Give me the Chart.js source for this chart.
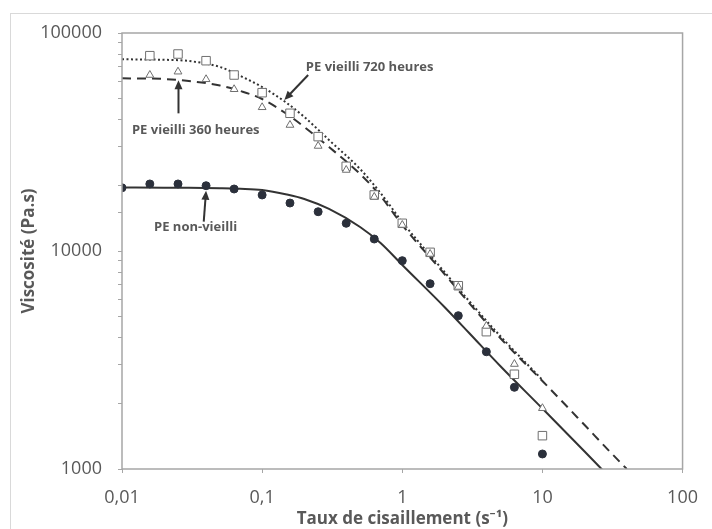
<!DOCTYPE html>
<html>

<head>
    <meta charset="utf-8" />
    <title>Viscosité du PE</title>
    <script src="https://cdn.jsdelivr.net/npm/chart.js"></script>
    <style>
        body { margin: 0; background: #fff; }
    </style>
</head>

<body>
    <canvas id="myChart" width="712" height="529"></canvas>

    <script type="text/javascript">

        // measured shear rates (s-1)
        const shearRate = [0.01, 0.0158, 0.0251, 0.0398, 0.0631, 0.1, 0.158, 0.251, 0.398, 0.631, 1, 1.58, 2.51, 3.98, 6.31, 10];
        const shearRateAged = shearRate.slice(1);

        // measured viscosities (Pa.s)
        const viscNonAged = [19500, 20300, 20300, 19930, 19250, 18070, 16600, 15140, 13400, 11350, 9030, 7080, 5050, 3450, 2370, 1172];
        const visc360h = [64160, 66450, 61330, 55200, 45630, 37840, 30320, 23530, 17700, 13160, 9690, 6840, 4530, 3030, 1900];
        const visc720h = [78700, 80100, 74630, 64160, 53240, 42830, 33470, 24460, 18070, 13400, 9860, 6930, 4265, 2720, 1422];

        // fitted curves
        const fitRate = [0.01, 0.02, 0.03, 0.05, 0.07, 0.1, 0.15, 0.2, 0.3, 0.5, 0.7, 1, 2, 3, 5, 10, 20, 30, 40];
        const fitNonAged = [19560, 19520, 19500, 19420, 19310, 19050, 18160, 17320, 15590, 12890, 10880, 8630, 5536, 4206, 2968, 1894, 1203, 919, 760];
        const fit360h = [61970, 61520, 60230, 57430, 54180, 49800, 42500, 37060, 30000, 22560, 17870, 13160, 7844, 5773, 3989, 2534, 1591, 1209, 1000];
        const fitRate720 = fitRate.slice(0, 16);
        const fit720h = [75750, 75350, 74400, 69830, 63500, 56530, 47740, 41180, 32300, 23770, 18450, 13580, 8012, 5896, 4074, 2561];

        // axis ticks
        const xTicks = [0.01, 0.1, 1, 10, 100];
        const yMajor = [1000, 10000, 100000];

        const pts = (xs, ys) => xs.map((x, i) => ({ x: x, y: ys[i] }));

        const FONT = "'Open Sans', 'Noto Sans', sans-serif";
        const GREY = '#595959';
        const INK = '#333333';

        // labels with arrows pointing at the curves (data coordinates)
        const notes = [
            { text: 'PE vieilli 720 heures', x: 0.205, y: 69800, align: 'left', from: [0.213, 64200], to: [0.144, 49300] },
            { text: 'PE vieilli 360 heures', x: 0.0336, y: 35900, align: 'center', from: [0.0253, 42800], to: [0.0253, 60700] },
            { text: 'PE non-vieilli', x: 0.0335, y: 12850, align: 'center', from: [0.0383, 13630], to: [0.0398, 18900] }
        ];

        // frame around the plot, outer border and the annotations
        const decorPlugin = {
            id: 'decor',
            beforeDraw(chart) {
                const ctx = chart.ctx;
                ctx.save();
                ctx.strokeStyle = '#d9d9d9';
                ctx.lineWidth = 1;
                ctx.strokeRect(10.5, 13.5, 720, 540);
                ctx.restore();
            },
            afterDatasetsDraw(chart) {
                const ctx = chart.ctx;
                const a = chart.chartArea;
                const xs = chart.scales.x, ys = chart.scales.y;
                ctx.save();
                ctx.strokeStyle = '#a6a6a6';
                ctx.lineWidth = 1.5;
                ctx.strokeRect(a.left, a.top, a.right - a.left, a.bottom - a.top);

                notes.forEach(n => {
                    ctx.fillStyle = GREY;
                    ctx.font = 'bold 13px ' + FONT;
                    ctx.textAlign = n.align;
                    ctx.textBaseline = 'middle';
                    ctx.fillText(n.text, xs.getPixelForValue(n.x), ys.getPixelForValue(n.y));

                    const x0 = xs.getPixelForValue(n.from[0]), y0 = ys.getPixelForValue(n.from[1]);
                    const x1 = xs.getPixelForValue(n.to[0]), y1 = ys.getPixelForValue(n.to[1]);
                    const ang = Math.atan2(y1 - y0, x1 - x0);
                    const head = 9;
                    ctx.strokeStyle = INK;
                    ctx.fillStyle = INK;
                    ctx.lineWidth = 2;
                    ctx.beginPath();
                    ctx.moveTo(x0, y0);
                    ctx.lineTo(x1 - Math.cos(ang) * head * 0.8, y1 - Math.sin(ang) * head * 0.8);
                    ctx.stroke();
                    ctx.beginPath();
                    ctx.moveTo(x1, y1);
                    ctx.lineTo(x1 - Math.cos(ang) * head + Math.sin(ang) * 4, y1 - Math.sin(ang) * head - Math.cos(ang) * 4);
                    ctx.lineTo(x1 - Math.cos(ang) * head - Math.sin(ang) * 4, y1 - Math.sin(ang) * head + Math.cos(ang) * 4);
                    ctx.closePath();
                    ctx.fill();
                });
                ctx.restore();
            }
        };

        const markerStyle = (style, radius, fill, stroke) => ({
            showLine: false,
            pointStyle: style,
            pointRadius: radius,
            backgroundColor: fill,
            borderColor: stroke,
            pointBorderWidth: 1
        });

        const fitStyle = dash => ({
            showLine: true,
            pointRadius: 0,
            borderColor: INK,
            borderWidth: 2,
            borderDash: dash,
            cubicInterpolationMode: 'monotone',
            clip: 0,
            fill: false
        });

        const data = {
            datasets: [
                Object.assign({ label: 'PE non-vieilli', data: pts(shearRate, viscNonAged) }, markerStyle('circle', 4, '#2b303b', '#2b303b')),
                Object.assign({ label: 'PE vieilli 360 heures', data: pts(shearRateAged, visc360h) }, markerStyle('triangle', 4.5, '#ffffff', '#6f6f6f')),
                Object.assign({ label: 'PE vieilli 720 heures', data: pts(shearRateAged, visc720h) }, markerStyle('rect', 6, '#ffffff', '#6f6f6f')),
                Object.assign({ label: 'fit non-vieilli', data: pts(fitRate, fitNonAged) }, fitStyle([])),
                Object.assign({ label: 'fit 360 h', data: pts(fitRate, fit360h) }, fitStyle([9, 6])),
                Object.assign({ label: 'fit 720 h', data: pts(fitRate720, fit720h) }, fitStyle([2, 2.5]))
            ]
        };

        const ctx = document.getElementById('myChart');
        new Chart(ctx, {
            type: 'scatter',
            data: data,
            plugins: [decorPlugin],
            options: {
                responsive: false,
                animation: false,
                layout: { padding: { top: 33, right: 21, left: 0, bottom: 0 } },
                plugins: { legend: { display: false }, tooltip: { enabled: false } },
                scales: {
                    x: {
                        type: 'logarithmic',
                        min: 0.01,
                        max: 100,
                        afterBuildTicks: s => { s.ticks = xTicks.map(v => ({ value: v })); },
                        afterFit: s => { s.height = 60; },
                        ticks: {
                            autoSkip: false,
                            maxRotation: 0,
                            padding: 14,
                            color: GREY,
                            font: { family: FONT, size: 18 },
                            callback: v => String(v).replace('.', ',')
                        },
                        grid: { drawOnChartArea: false, tickLength: 4, tickColor: '#a6a6a6' },
                        border: { display: false },
                        title: {
                            display: true,
                            text: 'Taux de cisaillement (s\u207B\u00B9)',
                            color: GREY,
                            padding: 0,
                            font: { family: FONT, size: 17, weight: 'bold' }
                        }
                    },
                    y: {
                        type: 'logarithmic',
                        min: 1000,
                        max: 100000,
                        afterFit: s => { s.width = 122; },
                        ticks: {
                            autoSkip: false,
                            padding: 16,
                            color: GREY,
                            font: { family: FONT, size: 18 },
                            callback: v => yMajor.includes(v) ? String(v) : ''
                        },
                        grid: { drawOnChartArea: false, tickLength: 4, tickColor: '#a6a6a6' },
                        border: { display: false },
                        title: {
                            display: true,
                            text: 'Viscosité (Pa.s)',
                            color: GREY,
                            padding: { top: 19 },
                            font: { family: FONT, size: 17, weight: 'bold' }
                        }
                    }
                }
            }
        });

    </script>

</body>

</html>
